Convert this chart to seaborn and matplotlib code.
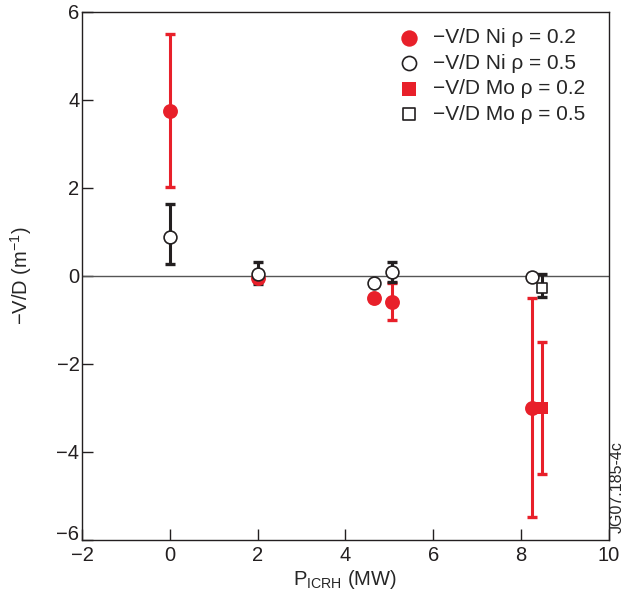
import numpy as np
import pandas as pd
import matplotlib
matplotlib.use("Agg")
import matplotlib.pyplot as plt
import seaborn as sns

# values
ni02_x = [0.0, 2.0, 4.66, 5.05, 8.25]
ni02_y = [3.75, -0.05, -0.5, -0.6, -3.0]
ni02_lo = [2.02, -0.05, -0.5, -1.0, -5.48]
ni02_hi = [5.5, -0.05, -0.5, -0.16, -0.5]

ni05_x = [0.0, 2.0, 4.66, 5.05, 8.25]
ni05_y = [0.88, 0.05, -0.17, 0.09, -0.03]
ni05_lo = [0.27, -0.18, -0.17, -0.14, -0.03]
ni05_hi = [1.63, 0.32, -0.17, 0.32, -0.03]

mo02_x = [8.48]
mo02_y = [-3.0]
mo02_lo = [-4.5]
mo02_hi = [-1.5]

mo05_x = [8.48]
mo05_y = [-0.27]
mo05_lo = [-0.47]
mo05_hi = [0.04]

red = "#e8202a"
dark = "#231f20"

sns.set_style("ticks")
plt.rcParams["font.family"] = ["Liberation Sans", "DejaVu Sans"]

fig, ax = plt.subplots(figsize=(6.23, 5.98), dpi=100)
fig.subplots_adjust(left=0.132, right=0.977, top=0.98, bottom=0.097)

ax.axhline(0, color="#555555", lw=1.0, zorder=1)

def bars(x, y, lo, hi, color):
    y = np.array(y)
    err = [y - np.array(lo), np.array(hi) - y]
    ax.errorbar(x, y, yerr=err, fmt="none", ecolor=color, elinewidth=2.2,
                capsize=3.8, capthick=2.4, zorder=2)

bars(ni02_x, ni02_y, ni02_lo, ni02_hi, red)
bars(mo02_x, mo02_y, mo02_lo, mo02_hi, red)
bars(ni05_x, ni05_y, ni05_lo, ni05_hi, dark)
bars(mo05_x, mo05_y, mo05_lo, mo05_hi, dark)

sns.scatterplot(x=ni02_x, y=ni02_y, ax=ax, marker="o", s=115, color=red,
                edgecolor=red, linewidth=0, zorder=3,
                label="\u2212V/D Ni \u03c1 = 0.2")
sns.scatterplot(x=ni05_x, y=ni05_y, ax=ax, marker="o", s=85, facecolor="white",
                edgecolor=dark, linewidth=1.2, zorder=4,
                label="\u2212V/D Ni \u03c1 = 0.5")
sns.scatterplot(x=mo02_x, y=mo02_y, ax=ax, marker="s", s=75, color=red,
                edgecolor=red, linewidth=0, zorder=3,
                label="\u2212V/D Mo \u03c1 = 0.2")
sns.scatterplot(x=mo05_x, y=mo05_y, ax=ax, marker="s", s=62, facecolor="white",
                edgecolor=dark, linewidth=1.2, zorder=4,
                label="\u2212V/D Mo \u03c1 = 0.5")

ax.set_xlim(-2, 10)
ax.set_ylim(-6, 6)
ax.set_xticks(np.arange(-2, 11, 2))
ax.set_yticks(np.arange(-6, 7, 2))
ax.set_xticklabels([("\u2212" if v < 0 else "") + str(abs(v)) for v in range(-2, 11, 2)])
ax.set_yticklabels([("\u2212" if v < 0 else "") + str(abs(v)) for v in range(-6, 7, 2)])
ax.tick_params(direction="in", length=8, width=1, labelsize=14.5, colors="#231f20")
ax.tick_params(axis="y", pad=2)
ax.tick_params(axis="x", pad=4.5)
for sp in ax.spines.values():
    sp.set_linewidth(1.0)
    sp.set_color("#231f20")

ax.set_xlabel("P$_{\\mathregular{ICRH}}$ (MW)", fontsize=14.5, labelpad=2)
ax.set_ylabel("\u2212V/D (m$^{\\mathregular{\u22121}}$)", fontsize=14.5, labelpad=16)

leg = ax.legend(loc="upper right", bbox_to_anchor=(0.983, 0.997), frameon=False,
                fontsize=15, handletextpad=0.15, labelspacing=0.31,
                borderaxespad=0.3, markerscale=1.1)

fig.text(0.99, 0.186, "JG07.185-4c", rotation=90, fontsize=11.5, ha="center", va="center")

# the bottom y label sits on the axis line, as in the original
ax.get_yticklabels()[0].set_va("baseline")

fig.savefig("out.png", dpi=100)
